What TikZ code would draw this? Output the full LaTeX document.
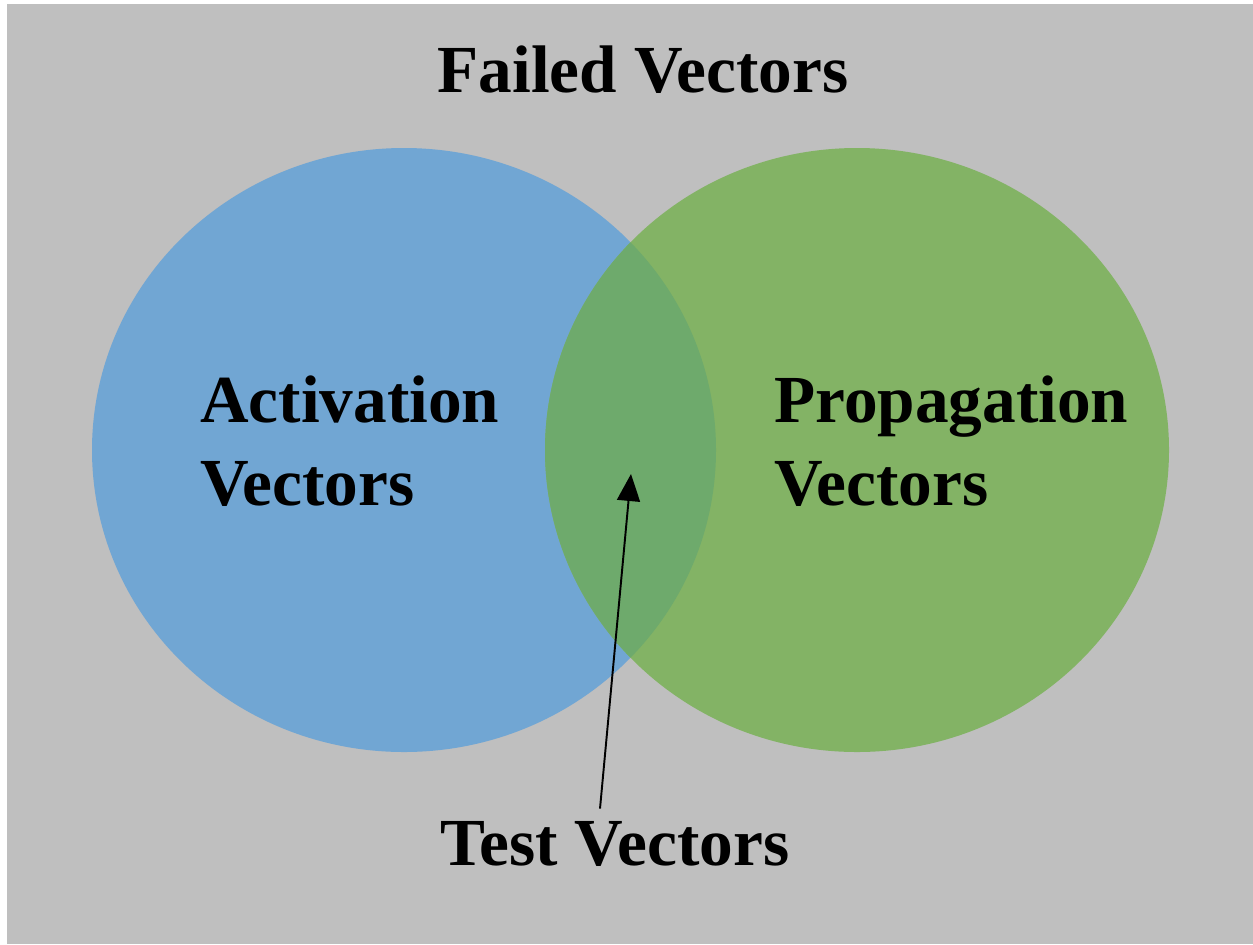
\documentclass[tikz,border=0pt]{standalone}
\usepackage{fontspec}
\setmainfont{Liberation Serif}
\usetikzlibrary{arrows.meta}
\definecolor{bggray}{RGB}{191,191,191}
\definecolor{actblue}{RGB}{113,166,211}
\definecolor{propgreen}{RGB}{131,179,101}
\definecolor{bothgreen}{RGB}{110,170,108}
\begin{document}
\begin{tikzpicture}[x=0.02cm, y=-0.02cm,
    venntext/.style={font=\bfseries\fontsize{38.3}{46.7}\selectfont, inner sep=0, align=left}]

    % Background
    \useasboundingbox (0,0) rectangle (1253,944);
    \fill[white] (0,0) rectangle (1253,944);
    \fill[bggray] (7,4) rectangle (1253,944);

    % Activation and propagation sets
    \fill[actblue] (404,450) ellipse [x radius=312, y radius=302];
    \fill[propgreen] (857,450) ellipse [x radius=312, y radius=302];
    \begin{scope}
        \clip (404,450) ellipse [x radius=312, y radius=302];
        \fill[bothgreen] (857,450) ellipse [x radius=312, y radius=302];
    \end{scope}

    % Labels (base anchor sits on the last line)
    \node[venntext, anchor=base] (failed) at (643,92) {Failed Vectors};
    \node[venntext, anchor=base west] (activation) at (200,505) {Activation\\Vectors};
    \node[venntext, anchor=base west] (propagation) at (774,505) {Propagation\\Vectors};
    \node[venntext, anchor=base] (test) at (615,865) {Test Vectors};

    % Pointer into the intersection
    \coordinate (tip) at (631,474);
    \draw[line width=1.1pt, -{Triangle[length=0.54cm, width=0.46cm]}]
        ([xshift=-0.3cm, yshift=0.24cm]test.north) -- (tip);

\end{tikzpicture}
\end{document}
